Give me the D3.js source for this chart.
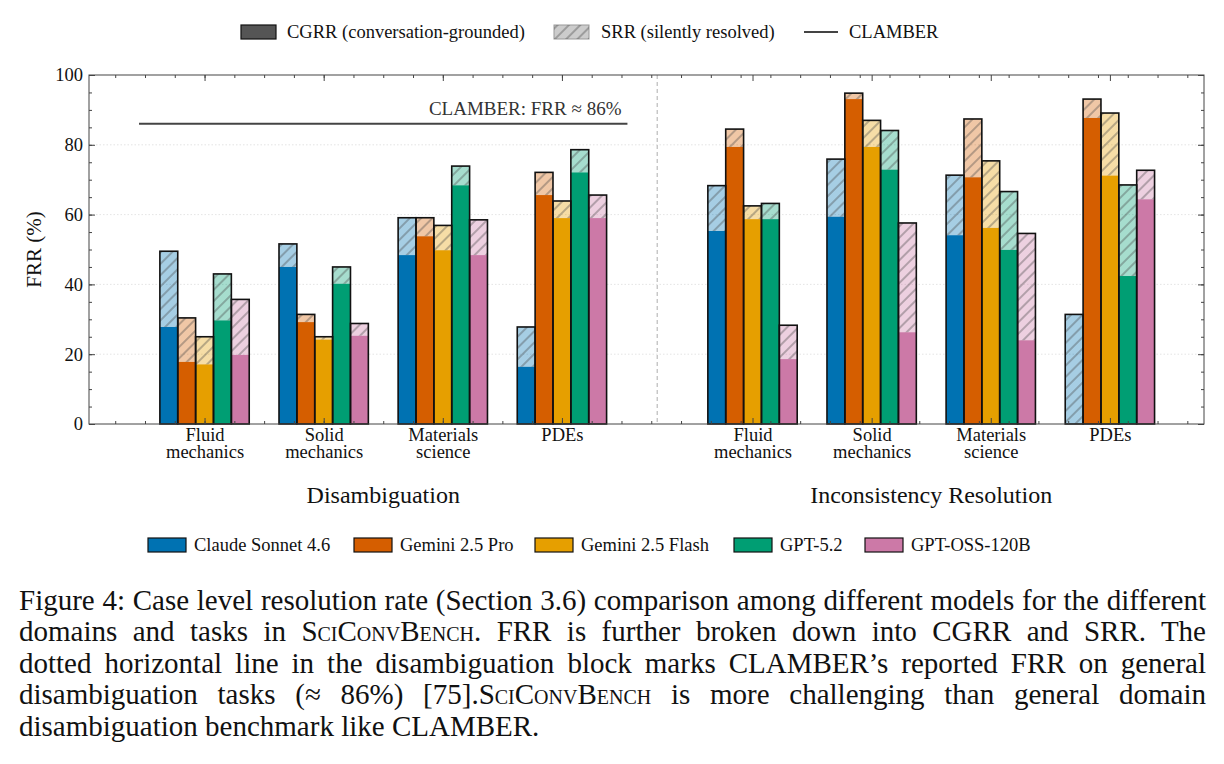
<!DOCTYPE html>
<html>
<head>
<meta charset="utf-8">
<script src="https://cdn.jsdelivr.net/npm/d3@7"></script>
<style>
  body { margin: 0; background: #fff; }
  #chart { position: absolute; left: 0; top: 0; }
  .caption { position: absolute; left: 19px; width: 1187px; font-family: "Liberation Serif", serif; font-size: 29px; color: #111; }
  .caption div { height: 31.4px; line-height: 31.4px; white-space: nowrap; text-align: justify; text-align-last: justify; }
  .caption div.last { text-align-last: left; }
  .sc { font-variant: small-caps; }
</style>
</head>
<body>
<div id="chart"></div>
<script>
// models and colours
var models = ["Claude Sonnet 4.6", "Gemini 2.5 Pro", "Gemini 2.5 Flash", "GPT-5.2", "GPT-OSS-120B"];
var colors = ["#0072B2", "#D55E00", "#E69F00", "#009E73", "#CC79A7"];

var domains = [["Fluid", "mechanics"], ["Solid", "mechanics"], ["Materials", "science"], ["PDEs"]];
var tasks = ["Disambiguation", "Inconsistency Resolution"];
var taskOffset = [0, 4.6];

// Disambiguation: CGRR and total FRR (%), one row per model, one value per domain
var disCGRR = [
  [27.8, 45.0, 48.4, 16.4],
  [17.8, 29.2, 53.8, 65.6],
  [17.1, 24.2, 49.8, 59.0],
  [29.7, 40.2, 68.4, 72.1],
  [19.8, 25.3, 48.4, 59.0]
];
var disFRR = [
  [49.5, 51.6, 59.1, 27.8],
  [30.4, 31.4, 59.1, 72.1],
  [25.0, 25.0, 56.9, 63.9],
  [43.0, 45.0, 73.9, 78.6],
  [35.7, 28.8, 58.5, 65.6]
];

// Inconsistency resolution
var incCGRR = [
  [55.3, 59.4, 54.1, 0.0],
  [79.4, 93.1, 70.7, 87.7],
  [58.7, 79.4, 56.2, 71.2],
  [58.7, 72.9, 49.9, 42.4],
  [18.6, 26.3, 24.0, 64.4]
];
var incFRR = [
  [68.3, 75.9, 71.3, 31.4],
  [84.5, 94.8, 87.4, 93.1],
  [62.5, 87.0, 75.4, 89.1],
  [63.2, 84.1, 66.6, 68.5],
  [28.3, 57.6, 54.6, 72.7]
];

var clamberFRR = 86;
var yTicks = [0, 20, 40, 60, 80, 100];

(function() {
// flatten into bar records
var bars = [];
[[disCGRR, disFRR], [incCGRR, incFRR]].forEach(function(t, ti) {
  models.forEach(function(m, mi) {
    domains.forEach(function(d, di) {
      bars.push({task: ti, model: mi, domain: di, cgrr: t[0][mi][di], frr: t[1][mi][di]});
    });
  });
});

var W = 1224, H = 764;
var pl = 89, pr = 1204, pt = 75, pb = 424;
var barW = 0.15;

var svg = d3.select("#chart").append("svg")
  .attr("width", W).attr("height", H)
  .style("font-family", "'Liberation Serif', serif");

var defs = svg.append("defs");
var hatch = defs.append("pattern")
  .attr("id", "hatch")
  .attr("patternUnits", "userSpaceOnUse")
  .attr("width", 8).attr("height", 8)
  .attr("patternTransform", "rotate(45)");
hatch.append("line")
  .attr("x1", 4).attr("y1", 0).attr("x2", 4).attr("y2", 8)
  .attr("stroke", "#444").attr("stroke-opacity", 0.7).attr("stroke-width", 1);

var x = d3.scaleLinear().domain([-0.97, 8.39]).range([pl, pr]);
var y = d3.scaleLinear().domain([0, 100]).range([pb, pt]);

function pos(d) { return taskOffset[d.task] + d.domain + (d.model - 2) * barW; }

// grid
svg.append("g").selectAll("line")
  .data([20, 40, 60, 80])
  .join("line")
    .attr("x1", pl).attr("x2", pr)
    .attr("y1", function(d) { return y(d); }).attr("y2", function(d) { return y(d); })
    .attr("stroke", "#ddd").attr("stroke-width", 0.8).attr("stroke-dasharray", "1.5,2");

// divider
svg.append("line")
  .attr("x1", x(3.8)).attr("x2", x(3.8))
  .attr("y1", pt).attr("y2", pb)
  .attr("stroke", "#bbb").attr("stroke-width", 1.2).attr("stroke-dasharray", "4,3");

// CLAMBER reference
svg.append("line")
  .attr("x1", x(-0.55)).attr("x2", x(3.55))
  .attr("y1", y(clamberFRR)).attr("y2", y(clamberFRR))
  .attr("stroke", "#444").attr("stroke-width", 2);
svg.append("text")
  .attr("x", x(3.5)).attr("y", y(clamberFRR) - 9)
  .attr("text-anchor", "end")
  .attr("font-size", 19).attr("fill", "#333")
  .text("CLAMBER: FRR \u2248 86%");

// bars
var g = svg.append("g");
function bx(d) { return x(pos(d) - barW / 2); }
var bw = x(barW) - x(0);
g.selectAll(".cg").data(bars).join("rect")
  .attr("x", bx).attr("width", bw)
  .attr("y", function(d) { return y(d.cgrr); })
  .attr("height", function(d) { return y(0) - y(d.cgrr); })
  .attr("fill", function(d) { return colors[d.model]; });
g.selectAll(".sr").data(bars).join("rect")
  .attr("x", bx).attr("width", bw)
  .attr("y", function(d) { return y(d.frr); })
  .attr("height", function(d) { return y(d.cgrr) - y(d.frr); })
  .attr("fill", function(d) { return colors[d.model]; })
  .attr("fill-opacity", 0.35);
g.selectAll(".hx").data(bars).join("rect")
  .attr("x", bx).attr("width", bw)
  .attr("y", function(d) { return y(d.frr); })
  .attr("height", function(d) { return y(d.cgrr) - y(d.frr); })
  .attr("fill", "url(#hatch)");
g.selectAll(".ol").data(bars).join("rect")
  .attr("x", bx).attr("width", bw)
  .attr("y", function(d) { return y(d.frr); })
  .attr("height", function(d) { return y(0) - y(d.frr); })
  .attr("fill", "none")
  .attr("stroke", "#111").attr("stroke-width", 1.6);

// axes, ticks point inward
var catPos = [];
taskOffset.forEach(function(o) { domains.forEach(function(d, i) { catPos.push(o + i); }); });
var minorX = d3.range(-0.75, 8.4, 0.25);
var minorY = d3.range(0, 101, 5);

function axisStyle(sel) {
  sel.select(".domain").remove();
  sel.selectAll(".tick line").attr("stroke", "#444");
}
svg.append("g").attr("transform", "translate(" + pl + ",0)")
  .call(d3.axisLeft(y).tickValues(yTicks).tickSize(-6).tickPadding(6))
  .call(axisStyle)
  .selectAll("text").attr("font-size", 18.5).attr("fill", "#111")
  .attr("font-family", "'Liberation Serif', serif");
svg.append("g").attr("transform", "translate(" + pl + ",0)")
  .call(d3.axisLeft(y).tickValues(minorY).tickSize(-3).tickFormat(""))
  .call(axisStyle);
svg.append("g").attr("transform", "translate(" + pr + ",0)")
  .call(d3.axisRight(y).tickValues(yTicks).tickSize(-6).tickFormat(""))
  .call(axisStyle);
svg.append("g").attr("transform", "translate(" + pr + ",0)")
  .call(d3.axisRight(y).tickValues(minorY).tickSize(-3).tickFormat(""))
  .call(axisStyle);
svg.append("g").attr("transform", "translate(0," + pt + ")")
  .call(d3.axisTop(x).tickValues(catPos).tickSize(-6).tickFormat(""))
  .call(axisStyle);
svg.append("g").attr("transform", "translate(0," + pt + ")")
  .call(d3.axisTop(x).tickValues(minorX).tickSize(-3).tickFormat(""))
  .call(axisStyle);
svg.append("g").attr("transform", "translate(0," + pb + ")")
  .call(d3.axisBottom(x).tickValues(minorX).tickSize(-3).tickFormat(""))
  .call(axisStyle);
var xb = svg.append("g").attr("transform", "translate(0," + pb + ")")
  .call(d3.axisBottom(x).tickValues(catPos).tickSize(-6).tickFormat(""))
  .call(axisStyle);

// two-line category labels
xb.selectAll(".tick").each(function(p, i) {
  var lines = domains[i % domains.length];
  var t = d3.select(this).append("text")
    .attr("fill", "#111").attr("font-size", 18.5)
    .attr("font-family", "'Liberation Serif', serif")
    .attr("text-anchor", "middle");
  lines.forEach(function(s, k) {
    t.append("tspan").attr("x", 0).attr("y", 17 + k * 16.5).text(s);
  });
});

// frame
svg.append("rect")
  .attr("x", pl).attr("y", pt)
  .attr("width", pr - pl).attr("height", pb - pt)
  .attr("fill", "none").attr("stroke", "#444").attr("stroke-width", 1);

// task labels
svg.selectAll(".task").data(tasks).join("text")
  .attr("x", function(d, i) { return x(taskOffset[i] + 1.5); })
  .attr("y", 503)
  .attr("text-anchor", "middle")
  .attr("font-size", 24).attr("fill", "#111")
  .text(function(d) { return d; });

// y label
svg.append("text")
  .attr("transform", "translate(41," + ((pt + pb) / 2) + ") rotate(-90)")
  .attr("text-anchor", "middle")
  .attr("font-size", 21).attr("fill", "#111")
  .text("FRR (%)");

// top legend
var lt = svg.append("g");
lt.append("rect").attr("x", 241).attr("y", 25).attr("width", 35).attr("height", 14)
  .attr("fill", "#555").attr("stroke", "#111").attr("stroke-width", 1.2);
lt.append("text").attr("x", 287).attr("y", 38).attr("font-size", 18.5).attr("fill", "#111")
  .text("CGRR (conversation-grounded)");
lt.append("rect").attr("x", 554).attr("y", 25).attr("width", 35).attr("height", 14)
  .attr("fill", "#ccc").attr("stroke", "#999").attr("stroke-width", 1);
lt.append("rect").attr("x", 554).attr("y", 25).attr("width", 35).attr("height", 14)
  .attr("fill", "url(#hatch)");
lt.append("text").attr("x", 601).attr("y", 38).attr("font-size", 18.5).attr("fill", "#111")
  .text("SRR (silently resolved)");
lt.append("line").attr("x1", 804).attr("x2", 838).attr("y1", 32).attr("y2", 32)
  .attr("stroke", "#444").attr("stroke-width", 2);
lt.append("text").attr("x", 849).attr("y", 38).attr("font-size", 18.5).attr("fill", "#111")
  .text("CLAMBER");

// model legend
var legX = [148, 354, 535, 734, 865];
var lb = svg.append("g").selectAll("g").data(models).join("g")
  .attr("transform", function(d, i) { return "translate(" + legX[i] + ",538)"; });
lb.append("rect").attr("width", 38).attr("height", 14)
  .attr("fill", function(d, i) { return colors[i]; })
  .attr("stroke", "#111").attr("stroke-width", 1.2);
lb.append("text").attr("x", 46).attr("y", 13).attr("font-size", 18.5).attr("fill", "#111")
  .text(function(d) { return d; });

// caption
var cap = d3.select("body").append("div").attr("class", "caption").style("top", "585px");
cap.append("div").html("Figure 4: Case level resolution rate (Section 3.6) comparison among different models for the different");
cap.append("div").html("domains and tasks in <span class='sc'>SciConvBench</span>. FRR is further broken down into CGRR and SRR. The");
cap.append("div").html("dotted horizontal line in the disambiguation block marks CLAMBER\u2019s reported FRR on general");
cap.append("div").html("disambiguation tasks (\u2248 86%) [75].<span class='sc'>SciConvBench</span> is more challenging than general domain");
cap.append("div").attr("class", "last").html("disambiguation benchmark like CLAMBER.");
})();
</script>
</body>
</html>
